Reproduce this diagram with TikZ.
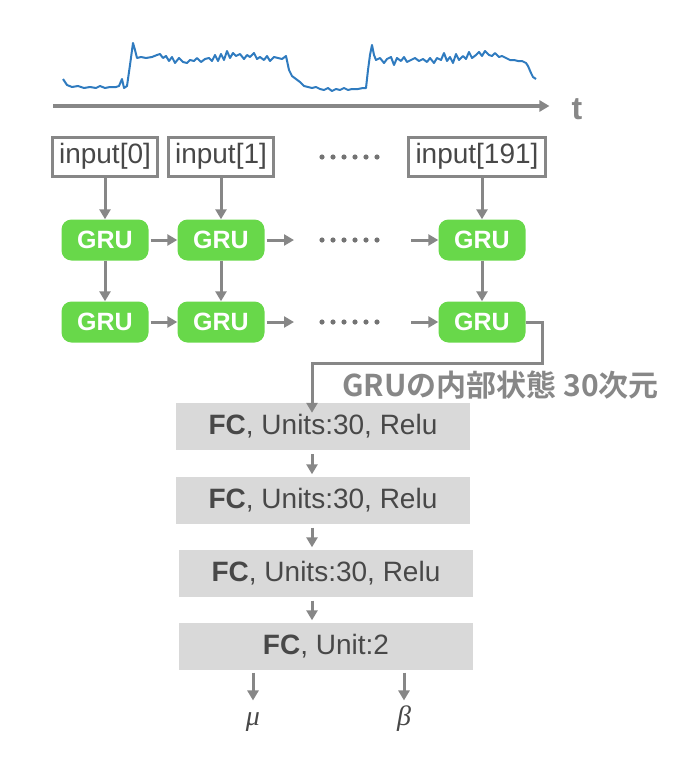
\documentclass[tikz,border=0pt]{standalone}
\usepackage{fontspec}
\setmainfont{Liberation Sans}
\newfontfamily\jpfont{Noto Sans CJK JP Bold}
\newfontfamily\greekfont{Liberation Serif}
\usepackage{tikz}
\usetikzlibrary{arrows.meta}
\usepackage{xcolor}
\definecolor{linegray}{HTML}{878787}
\definecolor{txtgray}{HTML}{484848}
\definecolor{grugreen}{HTML}{68D84A}
\definecolor{fcgray}{HTML}{D9D9D9}
\definecolor{sigblue}{HTML}{2F7BBF}

\begin{document}
\begin{tikzpicture}[x=1pt,y=-1pt,
    arr/.style={draw=linegray, line width=3pt, -{Triangle[length=10pt,width=11pt]}},
    inbox/.style={draw=linegray, line width=3pt, text=txtgray, inner xsep=7pt,
      minimum height=39pt, font=\fontsize{28}{28}\selectfont},
    gru/.style={fill=grugreen, rounded corners=10pt, minimum width=87pt,
      minimum height=41pt, text=white, font=\fontsize{25}{25}\selectfont\bfseries},
    fc/.style={fill=fcgray, minimum width=294pt, minimum height=47pt,
      text=txtgray, font=\fontsize{28}{28}\selectfont},
    outvar/.style={anchor=base, text=txtgray, text height=17pt, text depth=5pt,
      font=\greekfont\itshape\fontsize{28}{28}\selectfont}]
    \useasboundingbox (0,0) rectangle (682,761);
    % Sinal
    \draw[sigblue, line width=2pt, line join=round] plot coordinates {
      (63,79) (67,85) (72,87) (78,86) (84,88) (90,87) (96,88) (100,86) (105,88)
      (110,87) (116,87) (119,86) (122,79) (124,88) (127,86) (130,65) (133,43)
      (135,50) (137,58) (141,57) (146,58) (152,57) (157,55) (160,54) (163,58)
      (166,56) (169,61) (172,57) (175,63) (179,58) (183,62) (187,63) (190,60)
      (194,61) (197,58) (201,62) (205,59) (209,58) (212,61) (215,55) (218,61)
      (221,54) (224,60) (227,51) (230,58) (233,53) (236,56) (240,54) (244,59)
      (247,55) (250,57) (254,53) (257,59) (260,57) (264,60) (267,56) (270,61)
      (274,57) (278,58) (282,59) (286,56) (289,70) (292,76) (296,79) (300,82)
      (304,86) (308,87) (312,88) (316,87) (320,89) (324,90) (328,88) (332,91)
      (336,89) (340,90) (344,88) (348,90) (352,89) (358,89) (363,88) (366,88)
      (368,70) (370,55) (372,45) (374,55) (376,60) (380,58) (384,63) (387,59)
      (391,57) (394,65) (397,58) (401,61) (404,57) (407,62) (411,60) (415,58)
      (419,61) (423,59) (427,62) (430,58) (434,63) (437,58) (441,60) (444,53)
      (447,61) (450,57) (453,63) (456,54) (459,60) (463,56) (466,59) (469,52)
      (472,58) (476,55) (479,52) (482,56) (485,51) (489,55) (492,56) (495,53)
      (499,57) (502,56) (506,58) (510,60) (514,60) (518,61) (522,61) (526,63)
      (528,66) (531,73) (533,77) (536,79)};
    % Eixo do tempo
    \coordinate (t0) at (53,106);
    \node[anchor=base, inner sep=0pt, text=linegray, font=\fontsize{32}{32}\selectfont\bfseries]
      (t) at (577,119) {t};
    \draw[arr, line width=3.5pt, shorten >=22pt] (t0) -- (t0 -| t.west);
    % Entradas
    \node[inbox] (in0) at (105,156.5) {input[0]};
    \node[inbox] (in1) at (221,156.5) {input[1]};
    \node[inbox] (in191) at (477,156.5) {input[191]};
    % GRU
    \node[gru] (g11) at (105,240) {GRU};
    \node[gru] (g12) at (221,240) {GRU};
    \node[gru] (g13) at (482,240) {GRU};
    \node[gru] (g21) at (105,322) {GRU};
    \node[gru] (g22) at (221,322) {GRU};
    \node[gru] (g23) at (482,322) {GRU};
    \foreach \row in {157,240,322}
      \foreach \i in {0,...,5}
        \fill[linegray!85!black] (322+11*\i,\row) circle (2.6pt);
    \coordinate (r1out) at (294,240);
    \coordinate (r1in) at (411,240);
    \coordinate (r2out) at (294,322);
    \coordinate (r2in) at (411,322);
    \draw[arr] (in0) -- (g11);
    \draw[arr] (in1) -- (g12);
    \draw[arr] (in191.south -| g13) -- (g13);
    \draw[arr] (g11) -- (g21);
    \draw[arr] (g12) -- (g22);
    \draw[arr] (g13) -- (g23);
    \draw[arr, shorten <=2pt] (g11) -- (g12);
    \draw[arr, shorten <=2pt] (g12) -- (r1out);
    \draw[arr] (r1in) -- (g13);
    \draw[arr, shorten <=2pt] (g21) -- (g22);
    \draw[arr, shorten <=2pt] (g22) -- (r2out);
    \draw[arr] (r2in) -- (g23);
    % Camadas FC
    \coordinate (spine) at (312,0);
    \coordinate (bend) at (542,363);
    \node[fc] (fc1) at (323,426.5) {\textbf{FC}, Units:30, Relu};
    \node[fc] (fc2) at (323,500) {\textbf{FC}, Units:30, Relu};
    \node[fc] (fc3) at (326,573) {\textbf{FC}, Units:30, Relu};
    \node[fc] (fc4) at (326,646) {\textbf{FC}, Unit:2};
    \node[anchor=west, inner sep=0pt, text=linegray, font=\jpfont\fontsize{30}{30}\selectfont]
      (state) at (342,385) {GRUの内部状態 30次元};
    \draw[arr, line join=miter] (g23.east) -| (bend) -| ([yshift=-10pt]fc1.north -| spine);
    \draw[arr, shorten <=4pt, shorten >=2pt] (fc1.south -| spine) -- (fc2.north -| spine);
    \draw[arr, shorten <=4pt, shorten >=2pt] (fc2.south -| spine) -- (fc3.north -| spine);
    \draw[arr, shorten <=4pt, shorten >=2pt] (fc3.south -| spine) -- (fc4.north -| spine);
    % Saidas
    \node[outvar] (mu) at (253,725) {μ};
    \node[outvar] (beta) at (404,725) {β};
    \draw[arr, shorten <=3pt, shorten >=4pt] (fc4.south -| mu) -- (mu.north);
    \draw[arr, shorten <=3pt, shorten >=4pt] (fc4.south -| beta) -- (beta.north);
\end{tikzpicture}
\end{document}
